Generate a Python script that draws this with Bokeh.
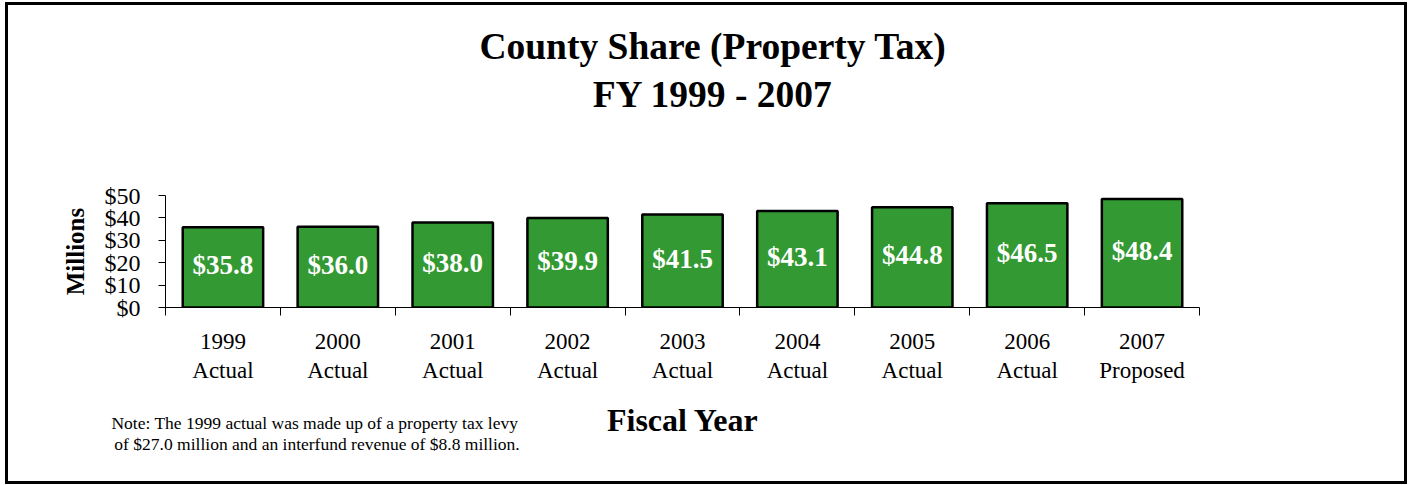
import math
from bokeh.plotting import figure
from bokeh.models import (Range1d, LinearAxis, FixedTicker,
                          PrintfTickFormatter, Label, ColumnDataSource)
from bokeh.core.properties import value
from bokeh.embed import file_html
from bokeh.resources import INLINE

# ---- data ----
years = ["1999", "2000", "2001", "2002", "2003", "2004", "2005", "2006", "2007"]
status = ["Actual", "Actual", "Actual", "Actual", "Actual", "Actual", "Actual", "Actual", "Proposed"]
values = [35.8, 36.0, 38.0, 39.9, 41.5, 43.1, 44.8, 46.5, 48.4]
y_ticks = [0, 10, 20, 30, 40, 50]
title_lines = ["County Share (Property Tax)", "FY 1999 - 2007"]
x_title = "Fiscal Year"
y_title = "Millions"
note_lines = ["Note: The 1999 actual was made up of  a property tax levy",
              "of $27.0 million and an interfund revenue of $8.8 million."]

SERIF = "Liberation Serif"
GREEN = "#339933"

n = len(years)
labels = [f"{y}\n{s}" for y, s in zip(years, status)]
centres = [i + 0.5 for i in range(n)]
src = ColumnDataSource(dict(
    x=centres,
    val=values,
    mid=[v / 2 for v in values],
    txt=[f"${v:.1f}" for v in values],
))

p = figure(width=1402, height=482, output_backend="svg", toolbar_location=None,
           x_range=Range1d(0, n), y_range=Range1d(0, 50),
           x_axis_location=None, y_axis_location=None,
           min_border_left=157, min_border_right=211,
           min_border_top=190, min_border_bottom=180,
           background_fill_color="white", border_fill_color="white")
p.styles = {"border": "3px solid black", "margin-left": "5px", "margin-top": "2px"}
p.outline_line_color = None
p.xgrid.visible = False
p.ygrid.visible = False

p.vbar(x="x", top="val", width=0.7, source=src, fill_color=GREEN,
       line_color="black", line_width=2.5)
p.text(x="x", y="mid", text="txt", source=src, text_color="white",
       text_font=value(SERIF), text_font_style="bold", text_font_size="27px",
       text_align="center", text_baseline="middle", y_offset=-2)

# y axis
yax = LinearAxis(ticker=FixedTicker(ticks=y_ticks),
                 formatter=PrintfTickFormatter(format="$%d"))
yax.axis_line_color = "black"
yax.major_tick_in = 0
yax.major_tick_out = 7
yax.minor_tick_line_color = None
yax.major_label_standoff = 18
yax.major_label_text_font = SERIF
yax.major_label_text_font_size = "24px"
yax.major_label_text_color = "black"
p.add_layout(yax, "left")

# x axis: labels at category centres, tick marks at boundaries
xax = LinearAxis(ticker=FixedTicker(ticks=centres,
                                    minor_ticks=list(range(n + 1))),
                 major_label_overrides={c: lab for c, lab in zip(centres, labels)})
xax.axis_line_color = "black"
xax.major_tick_line_color = None
xax.major_tick_in = 0
xax.major_tick_out = 0
xax.minor_tick_in = 0
xax.minor_tick_out = 8
xax.minor_tick_line_color = "black"
xax.major_label_standoff = 13
xax.major_label_text_font = SERIF
xax.major_label_text_font_size = "23px"
xax.major_label_text_color = "black"
xax.major_label_text_line_height = 1.17
p.add_layout(xax, "below")

# texts (placed in side panels so they are not clipped to the frame)
def add_label(place, x, y, text, size, bold=False, angle=0.0):
    p.add_layout(Label(x=x, y=y, text=text, text_font=SERIF,
                       text_font_size=size,
                       text_font_style="bold" if bold else "normal",
                       text_align="center", text_baseline="middle",
                       text_color="black", angle=angle), place)

add_label("above", 4.765, 116.5, title_lines[0], "37.5px", bold=True)
add_label("above", 4.765, 94.9, title_lines[1], "37.5px", bold=True)
add_label("below", 4.504, -50.4, x_title, "32px", bold=True)
add_label("left", -0.783, 25.0, y_title, "25px", bold=True, angle=math.pi / 2)
add_label("below", 1.319, -51.6, note_lines[0], "17.5px")
add_label("below", 1.319, -60.8, note_lines[1], "17.5px")

open("out.html", "w").write(file_html(p, INLINE))
